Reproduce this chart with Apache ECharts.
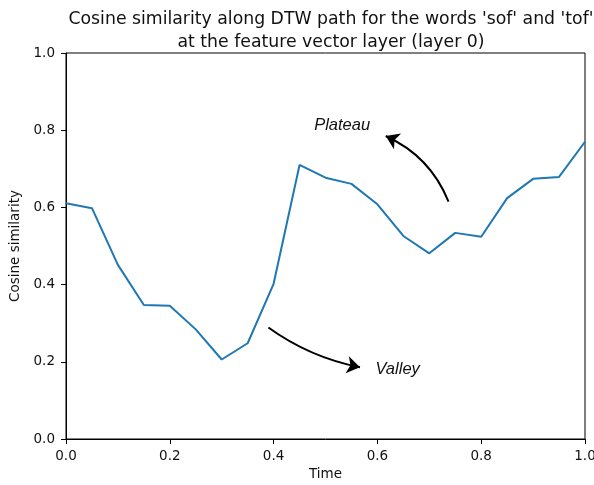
<!DOCTYPE html>
<html>
<head>
<meta charset="utf-8">
<script src="https://cdn.jsdelivr.net/npm/echarts@6/dist/echarts.min.js"></script>
<style>
  html, body { margin: 0; padding: 0; background: #fff; }
  #chart { width: 594px; height: 485px; }
</style>
</head>
<body>
<div id="chart"></div>
<script>
// Normalised time along the DTW alignment path
const times = [0.00, 0.05, 0.10, 0.15, 0.20, 0.25, 0.30, 0.35, 0.40, 0.45, 0.50,
               0.55, 0.60, 0.65, 0.70, 0.75, 0.80, 0.85, 0.90, 0.95, 1.00];
// Cosine similarity between aligned frames
const similarity = [0.611, 0.598, 0.451, 0.347, 0.345, 0.284, 0.206, 0.248, 0.402, 0.710, 0.677,
                    0.661, 0.608, 0.526, 0.481, 0.534, 0.524, 0.624, 0.674, 0.679, 0.770];
// Axis ticks
const tickValues = [0.0, 0.2, 0.4, 0.6, 0.8, 1.0];

// Annotations (data coordinates)
const annotationLabels = ['Plateau', 'Valley'];
const annotationTextPos = [[0.532, 0.813], [0.639, 0.181]];
const arrowFrom = [[0.737, 0.615], [0.390, 0.289]];
const arrowTo = [[0.616, 0.785], [0.5665, 0.186]];
const arrowCurve = [-0.2, -0.11];

const seriesData = times.map((t, i) => [t, similarity[i]]);
const tickMin = tickValues[0];
const tickMax = tickValues[tickValues.length - 1];
const tickStep = tickValues[1] - tickValues[0];

const chart = echarts.init(document.getElementById('chart'), null, { renderer: 'canvas' });

const axisCommon = {
  type: 'value',
  min: tickMin,
  max: tickMax,
  interval: tickStep,
  nameLocation: 'middle',
  nameTextStyle: { fontSize: 13.5, color: '#111', fontFamily: 'DejaVu Sans' },
  axisLine: { show: true, lineStyle: { color: '#000', width: 1 } },
  axisTick: { show: true, length: 5, lineStyle: { color: '#000', width: 1 } },
  axisLabel: {
    fontSize: 13.5, color: '#111', fontFamily: 'DejaVu Sans',
    formatter: v => v.toFixed(1)
  },
  splitLine: { show: false }
};

// One curved arrow per annotation, drawn in data space
const arrowSeries = arrowFrom.map((from, i) => ({
  type: 'lines',
  coordinateSystem: 'cartesian2d',
  silent: true,
  symbol: ['none', 'arrow'],
  symbolSize: 13,
  lineStyle: { color: '#000', width: 2, curveness: arrowCurve[i], opacity: 1 },
  itemStyle: { color: '#000' },
  data: [{ coords: [from, arrowTo[i]] }],
  z: 3
}));

chart.setOption({
  animation: false,
  backgroundColor: '#fff',
  textStyle: { fontFamily: 'DejaVu Sans' },
  title: {
    text: "Cosine similarity along DTW path for the words 'sof' and 'tof'\nat the feature vector layer (layer 0)",
    left: 326,
    top: 3,
    textAlign: 'center',
    textStyle: { fontSize: 17.3, fontWeight: 'normal', color: '#111', lineHeight: 22.7, fontFamily: 'DejaVu Sans' }
  },
  grid: {
    left: 66, right: 9, top: 53, bottom: 46,
    containLabel: false,
    outerBoundsMode: 'none',
    show: true, borderColor: '#000', borderWidth: 1, backgroundColor: 'transparent'
  },
  xAxis: Object.assign({}, axisCommon, {
    name: 'Time',
    nameGap: 26,
    axisLabel: Object.assign({}, axisCommon.axisLabel, { margin: 10 })
  }),
  yAxis: Object.assign({}, axisCommon, {
    name: 'Cosine similarity',
    nameGap: 41,
    axisLabel: Object.assign({}, axisCommon.axisLabel, { margin: 11 })
  }),
  series: [{
    type: 'line',
    data: seriesData,
    showSymbol: false,
    symbol: 'none',
    lineStyle: { color: '#1f77b4', width: 2 },
    itemStyle: { color: '#1f77b4' },
    markPoint: {
      silent: true,
      symbol: 'circle',
      symbolSize: 0,
      label: {
        show: true,
        position: 'inside',
        formatter: p => p.name,
        fontSize: 16.5,
        fontStyle: 'italic',
        fontFamily: 'Liberation Sans',
        color: '#111'
      },
      data: annotationLabels.map((name, i) => ({ name: name, coord: annotationTextPos[i] }))
    }
  }].concat(arrowSeries)
});
</script>
</body>
</html>
